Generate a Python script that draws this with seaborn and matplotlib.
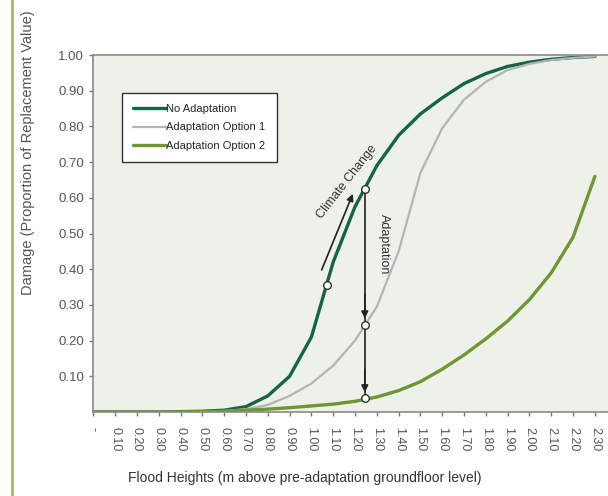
import matplotlib
matplotlib.use('Agg')
import matplotlib.pyplot as plt
from matplotlib.lines import Line2D
import seaborn as sns
import pandas as pd

# flood height categories (m) and their axis labels
flood_heights = [0.0, 0.1, 0.2, 0.3, 0.4, 0.5, 0.6, 0.7, 0.8, 0.9, 1.0, 1.1,
                 1.2, 1.3, 1.4, 1.5, 1.6, 1.7, 1.8, 1.9, 2.0, 2.1, 2.2, 2.3]
tick_labels = ['-', '0.10', '0.20', '0.30', '0.40', '0.50', '0.60', '0.70',
               '0.80', '0.90', '1.00', '1.10', '1.20', '1.30', '1.40', '1.50',
               '1.60', '1.70', '1.80', '1.90', '2.00', '2.10', '2.20', '2.30']

# damage curves
no_adaptation = [0.0, 0.0, 0.0, 0.0, 0.001, 0.002, 0.005, 0.015, 0.045, 0.10,
                 0.21, 0.42, 0.575, 0.69, 0.775, 0.835, 0.88, 0.92, 0.948,
                 0.968, 0.98, 0.988, 0.993, 0.996]
option_1 = [0.0, 0.0, 0.0, 0.0, 0.0, 0.001, 0.003, 0.008, 0.02, 0.045, 0.08,
            0.13, 0.20, 0.295, 0.45, 0.67, 0.795, 0.875, 0.925, 0.958, 0.975,
            0.986, 0.992, 0.996]
option_2 = [0.0, 0.0, 0.0, 0.0, 0.0, 0.001, 0.002, 0.005, 0.008, 0.012, 0.017,
            0.022, 0.03, 0.042, 0.06, 0.085, 0.12, 0.16, 0.205, 0.255, 0.315,
            0.39, 0.49, 0.66]

series_names = ['No Adaptation', 'Adaptation Option 1', 'Adaptation Option 2']
series_colors = ['#146446', '#b4b4b4', '#6e9632']
series_widths = [2.4, 1.6, 2.4]

y_ticks = [0.1, 0.2, 0.3, 0.4, 0.5, 0.6, 0.7, 0.8, 0.9, 1.0]

# open circles of the annotation
marker_x = [1.07, 1.245, 1.245, 1.245]
marker_y = [0.357, 0.625, 0.245, 0.038]

df = pd.DataFrame({
    'height': flood_heights * 3,
    'damage': no_adaptation + option_1 + option_2,
    'series': [n for n in series_names for _ in flood_heights],
})

sns.set_style('white')
plt.rcParams['font.family'] = ['Liberation Sans', 'DejaVu Sans']

fig = plt.figure(figsize=(6.08, 4.96), dpi=100)
ax = fig.add_axes([93.3 / 608, 1 - 412 / 496, 1 - 93.3 / 608, 357 / 496])
ax.set_facecolor('#edf1ea')

for name, color, lw in zip(series_names, series_colors, series_widths):
    sns.lineplot(data=df[df['series'] == name], x='height', y='damage',
                 color=color, linewidth=lw, label=name, ax=ax)

# annotation arrows and markers
arrow_kw = dict(arrowstyle='-|>', color='#222222', lw=1.2, mutation_scale=10,
                shrinkA=0, shrinkB=0)
ax.annotate('', xy=(1.19, 0.611), xytext=(1.047, 0.398), arrowprops=arrow_kw)
ax.plot([1.245, 1.245], [0.62, 0.045], color='#222222', lw=1.2)
ax.annotate('', xy=(1.245, 0.262), xytext=(1.245, 0.33), arrowprops=arrow_kw)
ax.annotate('', xy=(1.245, 0.055), xytext=(1.245, 0.12), arrowprops=arrow_kw)
sns.scatterplot(x=marker_x, y=marker_y, s=30, color='white',
                edgecolor='#333333', linewidth=1, zorder=5, ax=ax)

ax.text(1.165, 0.644, 'Climate Change', rotation=52, ha='center',
        va='center', fontsize=9, color='#333333')
ax.text(1.335, 0.47, 'Adaptation', rotation=-90, ha='center', va='center',
        fontsize=9, color='#333333')

ax.set_xlim(0, 2.36)
ax.set_ylim(0, 1.0)
ax.set_xticks(flood_heights)
ax.set_xticklabels(tick_labels, rotation=-90, fontsize=9, color='#555555')
ax.set_yticks(y_ticks)
ax.set_yticklabels([f'{v:.2f}' for v in y_ticks], fontsize=9.5,
                   color='#555555')
ax.tick_params(axis='both', length=3, width=1, color='#777777',
               direction='out', bottom=True, left=True)
ax.tick_params(axis='x', pad=8)

for side in ['top', 'left', 'bottom']:
    ax.spines[side].set_color('#8a8a8a')
    ax.spines[side].set_linewidth(1.2)
ax.spines['right'].set_visible(False)

ax.set_xlabel('Flood Heights (m above pre-adaptation groundfloor level)',
              fontsize=10, color='#333333', va='center')
ax.xaxis.set_label_coords(0.411, -0.185)
ax.set_ylabel('Damage (Proportion of Replacement Value)', fontsize=10.5,
              color='#555555', va='center')
ax.yaxis.set_label_coords(-0.127, 0.725)

leg = ax.legend(loc='upper left', bbox_to_anchor=(0.0558, 0.8936),
                borderaxespad=0, fontsize=8, handlelength=3,
                handletextpad=0, labelspacing=0.75, borderpad=1.0,
                fancybox=False, framealpha=1, edgecolor='#333333')
leg.get_frame().set_linewidth(1)

# green page rule on the left edge
fig.add_artist(Line2D([11.7 / 608, 11.7 / 608], [0, 1], color='#9cbb6b',
                      lw=2))

fig.savefig('out.png', dpi=100, facecolor='white')
plt.close(fig)
